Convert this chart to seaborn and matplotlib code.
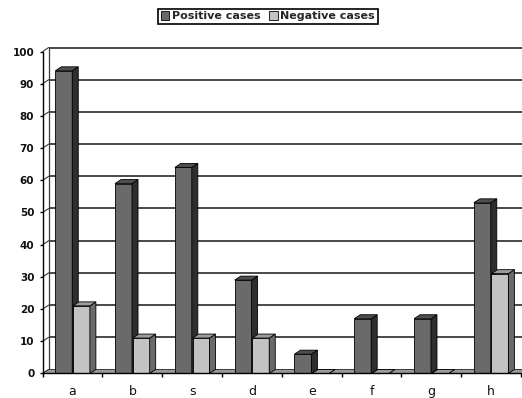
import numpy as np
import pandas as pd
import seaborn as sns
import matplotlib
matplotlib.use("Agg")
import matplotlib.pyplot as plt
from matplotlib.patches import Polygon
from matplotlib.ticker import MultipleLocator, FixedLocator

# Data
categories = ["a", "b", "s", "d", "e", "f", "g", "h"]
positive_cases = [94, 59, 64, 29, 6, 17, 17, 53]
negative_cases = [21, 11, 11, 11, 0, 0, 0, 31]
series_names = ["Positive cases", "Negative cases"]
y_ticks = list(range(0, 101, 10))

df = pd.DataFrame({
    "group": categories * 2,
    "value": positive_cases + negative_cases,
    "series": [series_names[0]] * len(categories) + [series_names[1]] * len(categories),
})

sns.set_style("white")
plt.rcParams["font.family"] = ["DejaVu Sans"]

# face colours: front, side, top
front_cols = ["#6a6a6a", "#c3c3c3"]
side_cols = ["#2e2e2e", "#6a6a6a"]
top_cols = ["#4e4e4e", "#9c9c9c"]

fig = plt.figure(figsize=(5.22, 3.98), dpi=100)
ax = fig.add_axes([0.0818, 0.0616, 0.9163, 0.809])

sns.barplot(data=df, x="group", y="value", hue="series", order=categories,
            hue_order=series_names, palette=front_cols, width=0.59, gap=0.04,
            edgecolor="black", linewidth=0.6, saturation=1, ax=ax)

ax.set_xlim(-0.5, len(categories) - 0.5)
ax.set_ylim(0, 100)
ax.set_xlabel("")
ax.set_ylabel("")

# depth offset of the pseudo-3D projection (pixels -> data units)
p0 = ax.transData.transform((0, 0))
p1 = ax.transData.transform((1, 1))
dxu = 6.0 / (p1[0] - p0[0])
dyu = 4.0 / (p1[1] - p0[1])

x0, x1 = -0.5, len(categories) - 0.5

# back wall
ax.add_patch(Polygon([(x0 + dxu, dyu), (x1 + dxu, dyu), (x1 + dxu, 100 + dyu),
                      (x0 + dxu, 100 + dyu)], closed=True, facecolor="white",
                     edgecolor="none", zorder=0.3, clip_on=False))
# back wall gridlines and side-wall diagonals
for v in y_ticks[1:]:
    ax.plot([x0 + dxu, x1 + dxu + 0.2], [v + dyu, v + dyu], color="#3a3a3a",
            lw=1.3, zorder=0.6, clip_on=False, solid_capstyle="butt")
for v in y_ticks:
    ax.plot([x0, x0 + dxu], [v, v + dyu], color="#3a3a3a", lw=0.8,
            zorder=0.6, clip_on=False)
ax.plot([x0 + dxu, x0 + dxu], [dyu, 100 + dyu], color="#3a3a3a", lw=0.9,
        zorder=0.6, clip_on=False)

# floor slab
ax.add_patch(Polygon([(x0, 0), (x1 + 0.2, 0), (x1 + 0.2 + dxu, dyu), (x0 + dxu, dyu)],
                     closed=True, facecolor="#9a9a9a", edgecolor="#222222",
                     lw=0.6, zorder=1.0, clip_on=False))

# side and top faces of each bar
for k, cont in enumerate(ax.containers):
    z = 2 + k
    for bar in cont.patches:
        bx, bw, bh = bar.get_x(), bar.get_width(), bar.get_height()
        bar.set_zorder(z)
        xr = bx + bw
        side = Polygon([(xr, 0), (xr + dxu, dyu), (xr + dxu, bh + dyu), (xr, bh)],
                       closed=True, facecolor=side_cols[k], edgecolor="black",
                       lw=0.6, zorder=z, clip_on=False)
        top = Polygon([(bx, bh), (xr, bh), (xr + dxu, bh + dyu), (bx + dxu, bh + dyu)],
                      closed=True, facecolor=top_cols[k], edgecolor="black",
                      lw=0.6, zorder=z, clip_on=False)
        ax.add_patch(side)
        ax.add_patch(top)

# spines and ticks
for s in ["top", "right"]:
    ax.spines[s].set_visible(False)
for s in ["left", "bottom"]:
    ax.spines[s].set_color("black")
    ax.spines[s].set_linewidth(1.0)
    ax.spines[s].set_zorder(5)

ax.yaxis.set_major_locator(FixedLocator(y_ticks))
ax.tick_params(axis="y", which="major", length=2.5, width=1.0, color="black",
               pad=3.5, labelsize=7.5, labelcolor="#111111", left=True)
for lab in ax.get_yticklabels():
    lab.set_fontweight("bold")

ax.xaxis.set_minor_locator(MultipleLocator(1, offset=0.5))
ax.tick_params(axis="x", which="major", length=0, pad=8, labelsize=9,
               labelcolor="#111111")
ax.tick_params(axis="x", which="minor", length=3, width=1.0, color="black",
               bottom=True)

# legend
handles, labels = ax.get_legend_handles_labels()
if ax.get_legend() is not None:
    ax.get_legend().remove()
leg = fig.legend(handles, labels, loc="center", bbox_to_anchor=(0.513, 0.959),
                 ncol=2, frameon=True, fancybox=False, edgecolor="black",
                 framealpha=1, borderpad=0.25, handlelength=0.75,
                 handleheight=0.75, handletextpad=0.25, columnspacing=0.8,
                 prop={"size": 8, "weight": "bold"})
leg.get_frame().set_linewidth(1.2)

fig.savefig("out.png", dpi=100)
